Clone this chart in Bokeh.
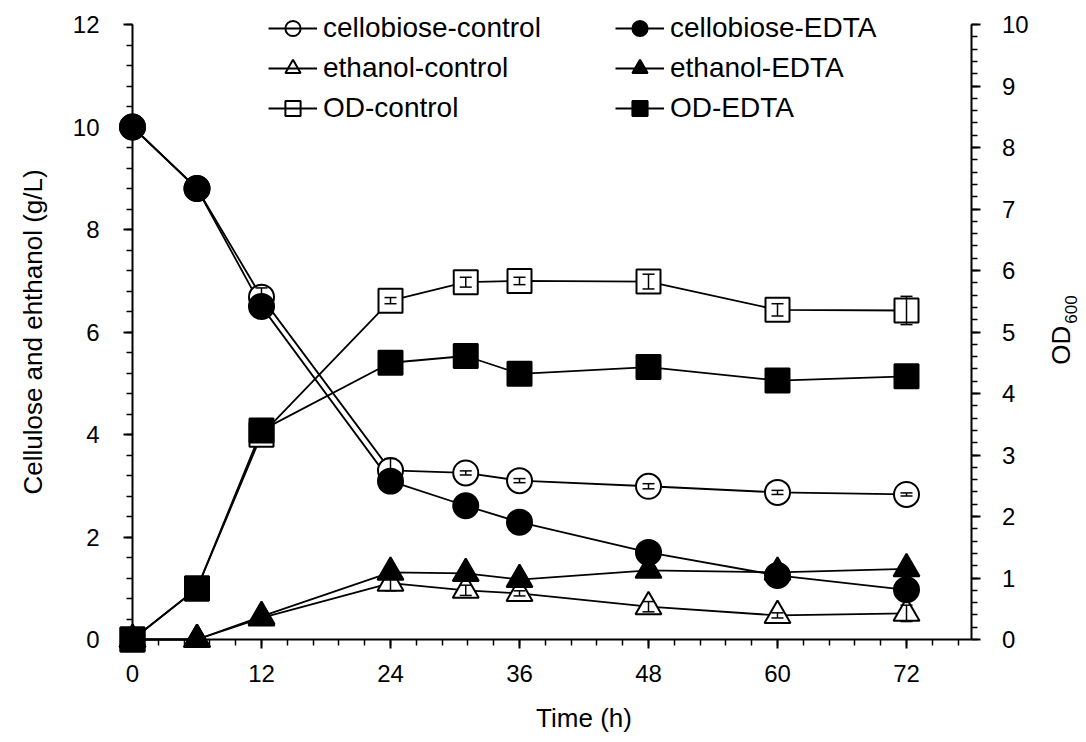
import math
from bokeh.plotting import figure
from bokeh.models import (Range1d, LinearAxis, FixedTicker, ColumnDataSource, Whisker,
                          TeeHead, Legend, LegendItem, Label)
from bokeh.embed import file_html
from bokeh.resources import INLINE

# ---------------- data ----------------
time_h = [0, 6, 12, 24, 31, 36, 48, 60, 72]

cellobiose_control = [10.0, 8.8, 6.68, 3.30, 3.25, 3.10, 2.99, 2.87, 2.83]
cellobiose_control_err = [0.0, 0.0, 0.18, 0.23, 0.04, 0.04, 0.05, 0.04, 0.03]
cellobiose_edta = [10.0, 8.8, 6.50, 3.09, 2.61, 2.29, 1.70, 1.25, 0.97]
cellobiose_edta_err = [0.0, 0.0, 0.05, 0.05, 0.05, 0.05, 0.05, 0.05, 0.05]

ethanol_control = [0.0, 0.0, 0.42, 1.10, 0.96, 0.90, 0.64, 0.47, 0.51]
ethanol_control_err = [0.0, 0.0, 0.05, 0.15, 0.10, 0.05, 0.10, 0.05, 0.16]
ethanol_edta = [0.0, 0.0, 0.45, 1.31, 1.29, 1.17, 1.35, 1.31, 1.38]
ethanol_edta_err = [0.0, 0.0, 0.03, 0.03, 0.06, 0.03, 0.06, 0.03, 0.03]

od_control = [0.0, 0.83, 3.33, 5.51, 5.81, 5.83, 5.82, 5.36, 5.35]
od_control_err = [0.0, 0.0, 0.05, 0.05, 0.08, 0.06, 0.12, 0.10, 0.23]
od_edta = [0.0, 0.83, 3.40, 4.50, 4.61, 4.32, 4.43, 4.21, 4.28]
od_edta_err = [0.0, 0.0, 0.05, 0.03, 0.03, 0.03, 0.03, 0.10, 0.03]

x_major = [0, 12, 24, 36, 48, 60, 72]
y_left_major = [0, 2, 4, 6, 8, 10, 12]
y_right_major = [0, 1, 2, 3, 4, 5, 6, 7, 8, 9, 10]

x_minor = [round(i * 2.4, 2) for i in range(33)]
y_left_minor = [round(i * 0.4, 2) for i in range(31)]
y_right_minor = [round(i * 0.2, 2) for i in range(51)]

FONT = "Liberation Sans"

W, H = 1084, 740
X0_PX, PX_PER_H = 132, 10.75          # x=0 position in figure px, px per hour
Y0_PX, PX_PER_L, PX_PER_OD = 639, 51.25, 61.5

p = figure(width=W, height=H, output_backend="svg", toolbar_location=None,
           x_range=Range1d(-X0_PX / PX_PER_H, (W - X0_PX) / PX_PER_H),
           y_range=Range1d(-(H - Y0_PX) / PX_PER_L, Y0_PX / PX_PER_L),
           min_border=0, min_border_left=0, min_border_right=0,
           min_border_top=0, min_border_bottom=0)
p.extra_y_ranges = {"od": Range1d(-(H - Y0_PX) / PX_PER_OD, Y0_PX / PX_PER_OD)}
p.outline_line_color = None
p.xgrid.visible = False
p.ygrid.visible = False
p.background_fill_color = "white"
p.border_fill_color = "white"

right_axis = LinearAxis(y_range_name="od")
p.add_layout(right_axis, "right")


def style_axis(ax, major, minor, standoff, bounds, loc):
    ax.ticker = FixedTicker(ticks=major, minor_ticks=minor)
    ax.bounds = bounds
    ax.fixed_location = loc
    ax.level = "underlay"
    ax.axis_line_width = 2
    ax.axis_line_color = "black"
    ax.major_tick_line_width = 2
    ax.minor_tick_line_width = 1.5
    ax.major_tick_out = 9
    ax.major_tick_in = 0
    ax.minor_tick_out = 6
    ax.minor_tick_in = 0
    ax.major_label_text_font = FONT
    ax.major_label_text_font_size = "24px"
    ax.major_label_text_color = "black"
    ax.major_label_standoff = standoff
    ax.axis_label_text_font = FONT
    ax.axis_label_text_font_size = "26px"
    ax.axis_label_text_font_style = "normal"
    ax.axis_label_text_color = "black"


style_axis(p.xaxis[0], x_major, x_minor, 16, (0, 78), 0)
style_axis(p.yaxis[0], y_left_major, y_left_minor, 24, (0, 12), 0)
style_axis(right_axis, y_right_major, y_right_minor, 22, (0, 10), 78)
p.yaxis[0].axis_label = "Cellulose and ehthanol (g/L)"
p.yaxis[0].axis_label_standoff = 22

series = [
    ("cellobiose-control", cellobiose_control, cellobiose_control_err, "circle", "white", "default", 25),
    ("ethanol-control", ethanol_control, ethanol_control_err, "triangle", "white", "default", 26),
    ("OD-control", od_control, od_control_err, "square", "white", "od", 24),
    ("cellobiose-EDTA", cellobiose_edta, cellobiose_edta_err, "circle", "black", "default", 25),
    ("ethanol-EDTA", ethanol_edta, ethanol_edta_err, "triangle", "black", "default", 26),
    ("OD-EDTA", od_edta, od_edta_err, "square", "black", "od", 24),
]

lines = {}
marks = {}
sources = {}
for name, vals, errs, mk, fill, rng, size in series:
    src = ColumnDataSource(dict(
        x=time_h, y=vals,
        upper=[v + e for v, e in zip(vals, errs)],
        lower=[v - e for v, e in zip(vals, errs)],
    ))
    sources[name] = src
    lines[name] = p.line("x", "y", source=src, line_color="black", line_width=1.8,
                         y_range_name=rng)

for name, vals, errs, mk, fill, rng, size in series:
    src = sources[name]
    marks[name] = p.scatter("x", "y", source=src, marker=mk, size=size,
                            fill_color=fill, line_color="black", line_width=2,
                            y_range_name=rng)
    w = Whisker(base="x", upper="upper", lower="lower", source=src,
                line_color="black", line_width=1.5, y_range_name=rng, level="overlay",
                upper_head=TeeHead(size=12, line_color="black", line_width=1.5),
                lower_head=TeeHead(size=12, line_color="black", line_width=1.5))
    p.add_layout(w)

items = [LegendItem(label=name, renderers=[marks[name], lines[name]]) for name, *_ in series]
legend = Legend(items=items, ncols=2, location=(268, H - 118 - 9), orientation="vertical",
                glyph_width=49, glyph_height=38, label_height=38, label_width=290,
                label_standoff=6, spacing=2, padding=0, margin=0,
                border_line_color=None, background_fill_alpha=0,
                label_text_font=FONT, label_text_font_size="28px", label_text_color="black")
p.add_layout(legend, "center")

# x-axis title
p.add_layout(Label(x=42.0, y=-1.54, text="Time (h)", text_align="center",
                   text_baseline="middle", text_font=FONT, text_font_size="26px",
                   text_color="black"))

# right axis title OD600 (subscript)
p.add_layout(Label(x=86.33, y=5.74, text="OD", angle=math.pi / 2, text_align="center",
                   text_baseline="middle", text_font=FONT, text_font_size="26px",
                   text_color="black"))
p.add_layout(Label(x=87.3, y=6.44, text="600", angle=math.pi / 2, text_align="center",
                   text_baseline="middle", text_font=FONT, text_font_size="17px",
                   text_color="black"))

open("out.html", "w").write(file_html(p, INLINE))
